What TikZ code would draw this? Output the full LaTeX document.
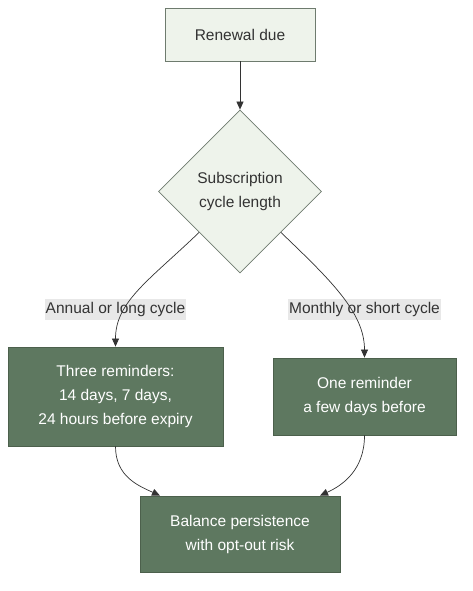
\documentclass[tikz,border=0pt]{standalone}
\usepackage{fontspec}
\setmainfont{Liberation Sans}
\usetikzlibrary{shapes.geometric,arrows.meta}
\definecolor{lightfill}{HTML}{EEF3EB}
\definecolor{lightdraw}{HTML}{6E7B6E}
\definecolor{darkfill}{HTML}{5E7860}
\definecolor{darkdraw}{HTML}{4C604C}
\definecolor{edgecol}{HTML}{333333}
\definecolor{labelbg}{HTML}{E8E8E8}
\definecolor{txt}{HTML}{333333}
\tikzset{
  lightbox/.style={draw=lightdraw, fill=lightfill, line width=0.8pt, text=txt, align=center, inner sep=0pt},
  darkbox/.style={draw=darkdraw, fill=darkfill, line width=0.8pt, text=white, align=center, inner sep=0pt},
  decision/.style={diamond, draw=lightdraw, fill=lightfill, line width=0.8pt, text=txt, align=center, inner sep=0pt, aspect=1},
  elabel/.style={fill=labelbg, text=txt, inner xsep=1pt, inner ysep=3pt},
  flow/.style={draw=edgecol, line width=0.7pt, -{Triangle[length=8pt,width=7pt]}},
}
\begin{document}
\begin{tikzpicture}[x=1pt,y=-1pt, font=\fontsize{15.5}{24}\selectfont]
\useasboundingbox (0,0) rectangle (472,591);
\node[lightbox, minimum width=150pt, minimum height=53pt] (due) at (240,34.5) {Renewal due};
\node[decision, minimum width=163pt, minimum height=163pt] (cyc) at (240,191.5) {Subscription\\cycle length};
\node[darkbox, minimum width=215pt, minimum height=99pt] (three) at (115.5,396.5) {Three reminders:\\14 days, 7 days,\\24 hours before expiry};
\node[darkbox, minimum width=183pt, minimum height=77pt] (one) at (364.5,396.5) {One reminder\\a few days before};
\node[darkbox, minimum width=200pt, minimum height=76pt] (bal) at (240,534) {Balance persistence\\with opt-out risk};
\node[elabel] (lab1) at (115.5,309.5) {Annual or long cycle};
\node[elabel] (lab2) at (364.5,309.5) {Monthly or short cycle};
\draw[flow] (due.south) -- (cyc.north);
\draw[flow] (cyc.south west) .. controls ++(-50,48) and ++(0,-45) .. (three.north);
\draw[flow] (cyc.south east) .. controls ++(50,48) and ++(0,-45) .. (one.north);
\draw[flow] (three.south) .. controls ++(0,30) and ++(-22,-10) .. ([xshift=-80pt]bal.north);
\draw[flow] (one.south) .. controls ++(0,35) and ++(22,-10) .. ([xshift=80pt]bal.north);
\end{tikzpicture}
\end{document}
